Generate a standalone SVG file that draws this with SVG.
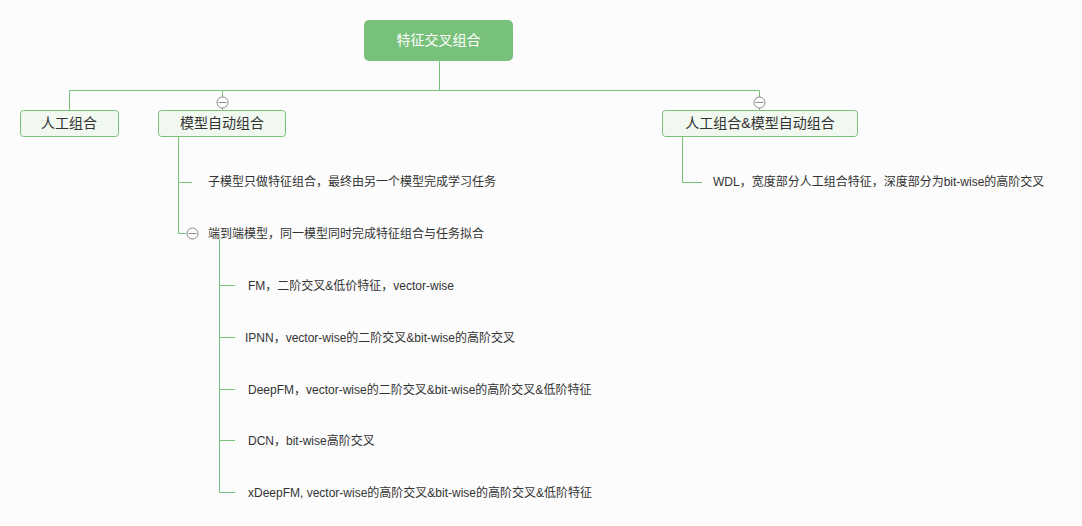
<svg xmlns="http://www.w3.org/2000/svg" width="1082" height="526" viewBox="0 0 1082 526">
<style>
.ln{stroke:#77c17b;stroke-width:1;fill:none}
.nd{fill:#f1f8ef;stroke:#77c17b;stroke-width:1}
.t{font-family:"Liberation Sans","Noto Sans CJK SC",sans-serif;fill:#333}
.n{font-size:14px;text-anchor:middle}
.l{font-size:12px}
.c{fill:#fff;stroke:#888;stroke-width:1}
</style>
<rect width="1082" height="526" fill="#fcfcfc"/>
<g id="connectors">
<path class="ln" d="M439.5 61V90.5M69.5 110V90.5H759.5V110M222.5 90.5V110"/>
<path class="ln" d="M178.5 136V233.5H186M178.5 182.5H192"/>
<path class="ln" d="M219.5 239V492.5H235M219.5 285.5H235M219.5 337.5H235M219.5 389.5H235M219.5 440.5H235"/>
<path class="ln" d="M682.5 136V182.5H702"/>
</g>
<g id="root"><rect x="364" y="20" width="149" height="41" rx="5" fill="#77c17b"/><text class="t n" x="438.5" y="45" font-size="15" fill="#fff" style="fill:#fff">特征交叉组合</text></g>
<g id="n1"><rect class="nd" x="20.5" y="110.5" width="98" height="26" rx="3"/><text class="t n" x="69" y="128">人工组合</text></g>
<g id="n2"><rect class="nd" x="158.5" y="110.5" width="127" height="26" rx="3"/><text class="t n" x="222" y="128">模型自动组合</text><circle class="c" cx="222.5" cy="102.5" r="5.5"/><path d="M218.5 102.5h8" stroke="#888"/></g>
<g id="n3"><rect class="nd" x="662.5" y="110.5" width="195" height="26" rx="3"/><text class="t n" x="760" y="128">人工组合&amp;模型自动组合</text><circle class="c" cx="759.5" cy="102.5" r="5.5"/><path d="M755.5 102.5h8" stroke="#888"/></g>
<g id="n4"><text class="t l" x="208" y="186">子模型只做特征组合，最终由另一个模型完成学习任务</text></g>
<g id="n5"><circle class="c" cx="192.5" cy="233.5" r="5.5"/><path d="M188.5 233.5h8" stroke="#888"/><text class="t l" x="208" y="238">端到端模型，同一模型同时完成特征组合与任务拟合</text></g>
<g id="n6"><text class="t l" x="248" y="290">FM，二阶交叉&amp;低价特征，vector-wise</text></g>
<g id="n7"><text class="t l" x="245" y="342">IPNN，vector-wise的二阶交叉&amp;bit-wise的高阶交叉</text></g>
<g id="n8"><text class="t l" x="248" y="394">DeepFM，vector-wise的二阶交叉&amp;bit-wise的高阶交叉&amp;低阶特征</text></g>
<g id="n9"><text class="t l" x="248" y="445">DCN，bit-wise高阶交叉</text></g>
<g id="n10"><text class="t l" x="248" y="497">xDeepFM, vector-wise的高阶交叉&amp;bit-wise的高阶交叉&amp;低阶特征</text></g>
<g id="n11"><text class="t l" x="713" y="186">WDL，宽度部分人工组合特征，深度部分为bit-wise的高阶交叉</text></g>
</svg>
